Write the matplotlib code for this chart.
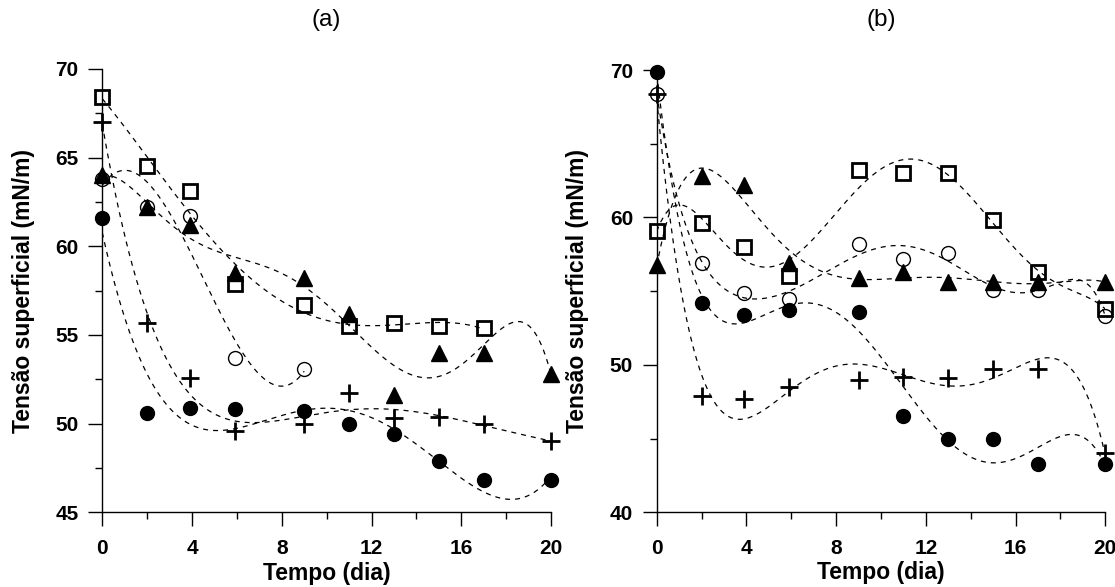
import numpy as np
import matplotlib.pyplot as plt
from matplotlib.ticker import MultipleLocator

plt.rcParams['font.family'] = ['Liberation Sans', 'DejaVu Sans']

# tempo (dia)
dias = [0, 2, 3.9, 5.9, 9, 11, 13, 15, 17, 20]

# painel (a)
a_circ_cheio = [61.6, 50.6, 50.9, 50.8, 50.7, 50.0, 49.4, 47.9, 46.8, 46.8]
a_mais = [67.0, 55.7, 52.6, 49.6, 50.0, 51.7, 50.3, 50.4, 50.0, 49.0]
a_circ_vazio = [63.8, 62.2, 61.7, 53.7, 53.1]
a_triang = [64.0, 62.2, 61.2, 58.5, 58.2, 56.2, 51.6, 54.0, 54.0, 52.8]
a_quad = [68.4, 64.5, 63.1, 57.9, 56.7, 55.5, 55.7, 55.5, 55.4]

# painel (b)
b_circ_cheio = [69.9, 54.2, 53.4, 53.7, 53.6, 46.5, 45.0, 45.0, 43.3, 43.3]
b_mais = [68.4, 47.9, 47.7, 48.5, 49.0, 49.2, 49.1, 49.7, 49.7, 44.0]
b_circ_vazio = [68.4, 56.9, 54.9, 54.5, 58.2, 57.2, 57.6, 55.1, 55.1, 53.3]
b_triang = [56.8, 62.8, 62.2, 56.9, 55.9, 56.3, 55.6, 55.6, 55.6, 55.6]
b_quad = [59.1, 59.6, 58.0, 56.0, 63.2, 63.0, 63.0, 59.8, 56.3, 53.8]

estilos = {
    'cheio': dict(marker='o', ms=10, mfc='black', mec='black'),
    'mais': dict(marker='+', ms=13, mew=2, mec='black'),
    'vazio': dict(marker='o', ms=10, mfc='none', mec='black', mew=1),
    'triang': dict(marker='^', ms=11, mfc='black', mec='black'),
    'quad': dict(marker='s', ms=10, mfc='none', mec='black', mew=2),
}


def ajuste(ax, x, y, grau):
    # curva de tendencia polinomial (tracejada)
    p = np.polynomial.Polynomial.fit(x, y, grau)
    xx = np.linspace(min(x), max(x), 400)
    ax.plot(xx, p(xx), color='black', lw=0.9, ls=(0, (4, 4)), zorder=2)


def painel(ax, series, ylim, ymaj, titulo, xt):
    for y, est, grau in series:
        x = dias[:len(y)]
        ajuste(ax, x, y, grau)
        ax.plot(x, y, ls='none', clip_on=False, zorder=3, **estilos[est])
    ax.set_xlim(0, 20)
    ax.set_ylim(*ylim)
    ax.xaxis.set_major_locator(MultipleLocator(4))
    ax.xaxis.set_minor_locator(MultipleLocator(2))
    ax.yaxis.set_major_locator(MultipleLocator(ymaj))
    ax.yaxis.set_minor_locator(MultipleLocator(ymaj / 2))
    for s in ['top', 'right']:
        ax.spines[s].set_visible(False)
    for s in ['left', 'bottom']:
        ax.spines[s].set_linewidth(1.0)
    ax.tick_params(which='major', length=10, width=1.0, direction='out')
    ax.tick_params(which='minor', length=5, width=1.0, direction='out')
    ax.tick_params(axis='y', which='major', pad=7)
    ax.tick_params(axis='x', which='major', pad=9)
    for lab in ax.get_xticklabels() + ax.get_yticklabels():
        lab.set_fontweight('bold')
        lab.set_fontsize(15)
    ax.set_xlabel('Tempo (dia)', fontsize=16.5, fontweight='bold', va='center')
    ax.set_ylabel('Tensão superficial (mN/m)', fontsize=16.5, fontweight='bold', va='center')
    ax.xaxis.set_label_coords(0.5, -0.137)
    ax.yaxis.set_label_coords(-0.176, 0.5)
    fig.text(xt, 1 - 20 / 587, titulo, ha='center', va='center', fontsize=17.5)


fig = plt.figure(figsize=(11.15, 5.87), dpi=100)
ax1 = fig.add_axes([0.0917, 0.1273, 0.4025, 0.7552])
ax2 = fig.add_axes([0.589, 0.1273, 0.4023, 0.7534])

painel(ax1, [(a_circ_cheio, 'cheio', 4), (a_mais, 'mais', 5), (a_circ_vazio, 'vazio', 3),
             (a_triang, 'triang', 6), (a_quad, 'quad', 4)],
       (45, 70), 5, '(a)', 326.5 / 1115)
painel(ax2, [(b_circ_cheio, 'cheio', 5), (b_mais, 'mais', 5), (b_circ_vazio, 'vazio', 7),
             (b_triang, 'triang', 6), (b_quad, 'quad', 6)],
       (40, 70), 10, '(b)', 881 / 1115)

fig.savefig('out.png', dpi=100)
